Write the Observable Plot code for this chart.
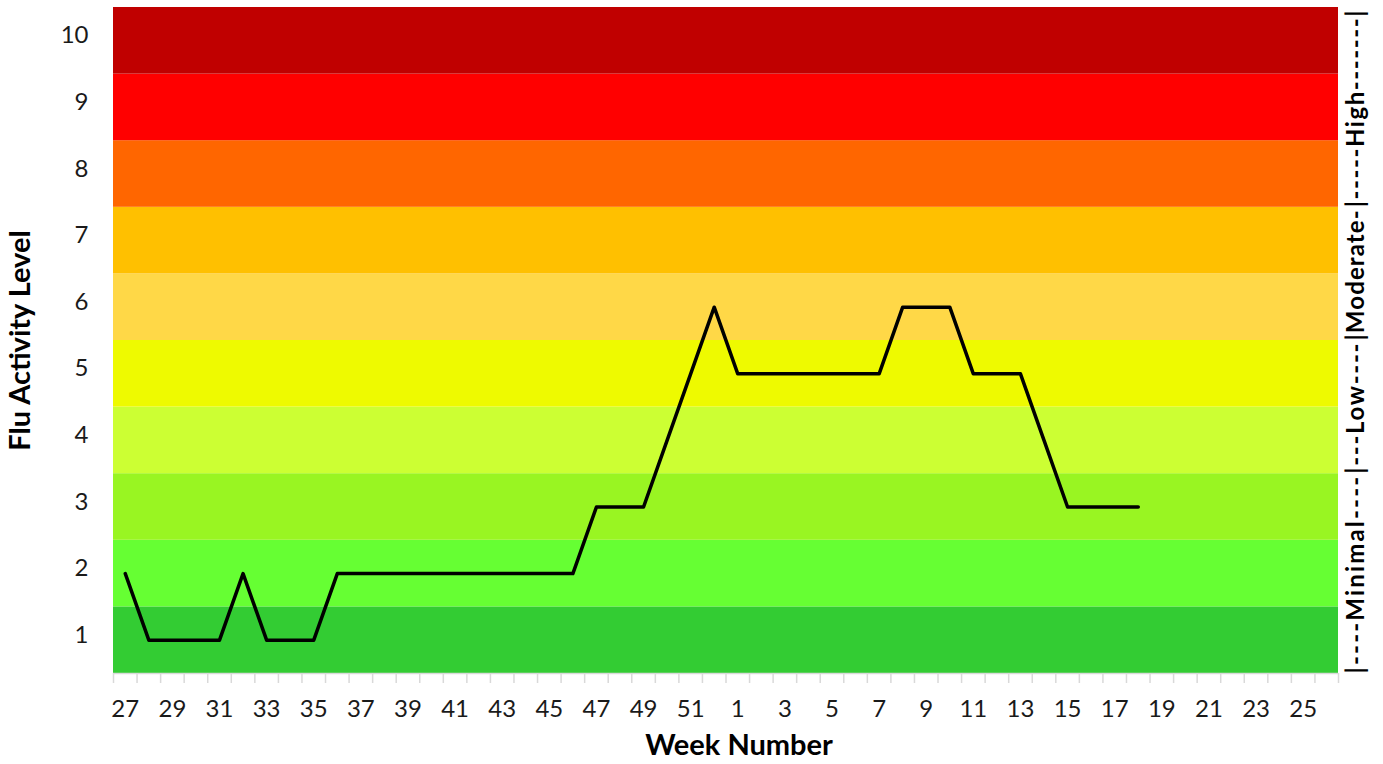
<!DOCTYPE html>
<html><head><meta charset="utf-8">
<script src="https://cdn.jsdelivr.net/npm/d3@7"></script>
<script src="https://cdn.jsdelivr.net/npm/@observablehq/plot@0.6"></script>
<style>body{margin:0;background:#fff;} #chart svg{font-family:Lato,sans-serif;}</style>
</head><body><div id="chart"></div>
<script>
const weeks = [27,28,29,30,31,32,33,34,35,36,37,38,39,40,41,42,43,44,45,46,47,48,49,50,51,52,
               1,2,3,4,5,6,7,8,9,10,11,12,13,14,15,16,17,18,19,20,21,22,23,24,25,26];
const activity = [2,1,1,1,1,2,1,1,1,2, 2,2,2,2,2,2,2,2,2,2, 3,3,3,4,5,6, 5,5,5,5,5,5,5, 6,6,6, 5,5,5, 4, 3,3,3,3];
const levels = [1,2,3,4,5,6,7,8,9,10];
const levelColors = ["#33CC33","#66FF33","#99F522","#CCFF33","#EEFA00","#FFD847","#FFC000","#FF6600","#FF0000","#C00000"];
const yTitle = "Flu Activity Level";
const xTitle = "Week Number";
const sideSegments = ["|----Minimal----", "|---Low----", "|Moderate-", "|-----High-------|"];
const sideFrom = [1, 4, 6, 8];
const sideTo = [3, 5, 7, 10];

const n = weeks.length;
const lineData = activity.map((v, i) => ({x: i + 0.5, y: v}));
const bands = levels.map((l, i) => ({level: l, color: levelColors[i]}));
const labelTicks = weeks.map((w, i) => i + 0.5).filter((v, i) => i % 2 === 0);
const sideData = sideSegments.map((s, i) => ({label: s, lo: sideFrom[i] - 0.5, hi: sideTo[i] + 0.5}));

const chart = Plot.plot({
  width: 1383, height: 764,
  marginLeft: 113, marginRight: 45, marginTop: 7, marginBottom: 91,
  style: {fontFamily: "Lato, sans-serif", fontSize: "24px", color: "#1a1a1a", background: "#fff"},
  x: {type: "linear", domain: [0, n], axis: null},
  y: {domain: [0.5, 10.5], axis: null},
  marks: [
    Plot.rect(bands, {x1: () => 0, x2: () => n, y1: d => d.level - 0.5, y2: d => d.level + 0.5, fill: d => d.color}),
    Plot.ruleY([0.5], {stroke: "#d9d9d9", strokeWidth: 1.5}),
    Plot.axisX(d3.range(n + 1), {tickSize: 10, stroke: "#d9d9d9", strokeWidth: 1.5, tickFormat: () => "", label: null}),
    Plot.axisX(labelTicks, {tickSize: 0, tickPadding: 26, tickFormat: v => weeks[Math.floor(v)], label: null}),
    Plot.axisY(levels, {tickSize: 0, tickPadding: 25, dy: -5, tickFormat: d => String(d), label: null}),
    Plot.line(lineData, {x: "x", y: "y", stroke: "black", strokeWidth: 3.5}),
    Plot.text([yTitle], {frameAnchor: "left", textAnchor: "middle", rotate: -90, dx: -93, fontWeight: "bold", fontSize: 29, fill: "#000"}),
    Plot.text([xTitle], {frameAnchor: "bottom", textAnchor: "middle", dy: 81, dx: 13, fontWeight: "bold", fontSize: 29, fill: "#000"}),
    Plot.text(sideData, {y: "lo", text: "label", frameAnchor: "right", textAnchor: "start", lineAnchor: "middle", rotate: -90, dx: 18, fontWeight: "bold", fontSize: 24, fill: "#000", className: "side-label"})
  ]
});
document.getElementById("chart").appendChild(chart);
const ys = chart.scale("y");
d3.select(chart).selectAll(".side-label text").each(function(_, i) {
  const d = sideData[i];
  const len = Math.abs(ys.apply(d.lo) - ys.apply(d.hi)) - 3;
  d3.select(this).attr("textLength", len).attr("lengthAdjust", "spacing");
});
</script>
</body></html>
